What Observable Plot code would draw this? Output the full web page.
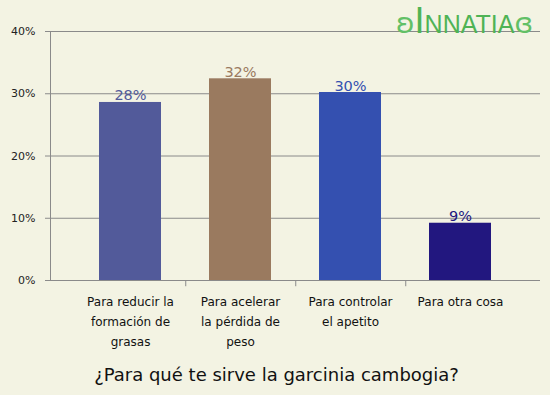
<!DOCTYPE html>
<html>
<head>
<meta charset="utf-8">
<script src="https://cdn.jsdelivr.net/npm/d3@7"></script>
<script src="https://cdn.jsdelivr.net/npm/@observablehq/plot@0.6"></script>
<style>
  html, body { margin: 0; padding: 0; background: #f3f3e3; }
  #wrap { position: relative; width: 550px; height: 395px; overflow: hidden; }
  #logo { position: absolute; left: 396px; top: 3px; color: #4fb355; font-family: "Liberation Sans", sans-serif; white-space: nowrap; line-height: 36px; }
  #logo .big { font-size: 36px; }
  #logo .rest { font-size: 25px; }
  #logo .orn { font-size: 28px; color: #62c066; font-family: "DejaVu Sans", sans-serif; }
</style>
</head>
<body>
<div id="wrap">
  <div id="chart"></div>
  <div id="logo"><span class="orn">ʚ</span><span class="big">I</span><span class="rest">NNATIA</span><span class="orn">ɞ</span></div>
</div>
<script>
const categories = [
  "Para reducir la formación de grasas",
  "Para acelerar la pérdida de peso",
  "Para controlar el apetito",
  "Para otra cosa"
];
const tickLabels = [
  "Para reducir la\nformación de\ngrasas",
  "Para acelerar\nla pérdida de\npeso",
  "Para controlar\nel apetito",
  "Para otra cosa"
];
const values = [28.6, 32.4, 30.2, 9.2];
const valueLabels = ["28%", "32%", "30%", "9%"];
const barColors = ["#525a9a", "#9a7a5f", "#3450b0", "#22177f"];
const yTicks = [0, 10, 20, 30, 40];
const title = "¿Para qué te sirve la garcinia cambogia?";

const data = categories.map((c, i) => ({cat: c, value: values[i], label: valueLabels[i], color: barColors[i]}));
const gray = "#8a8a8a";

const chart = Plot.plot({
  width: 550,
  height: 395,
  marginTop: 31,
  marginBottom: 115,
  marginLeft: 50,
  marginRight: 10,
  style: {background: "#f3f3e3", fontFamily: "DejaVu Sans, sans-serif"},
  x: {domain: categories, paddingInner: 0.44, paddingOuter: 0.437, label: null},
  y: {domain: [0, 40], label: null},
  marks: [
    Plot.ruleY(yTicks, {stroke: gray, strokeWidth: 1}),
    Plot.frame({anchor: "left", stroke: gray}),
    Plot.ruleX(categories.slice(0, 3), {x: d => d, dx: 55.25, y1: 0, y2: -1, stroke: gray}),
    Plot.axisY({ticks: yTicks, tickFormat: d => d + "%", tickSize: 5, tickPadding: 10, fontSize: 11, stroke: gray, fill: "#222", label: null}),
    Plot.axisX({tickSize: 0, tickPadding: 11, fontSize: 12, lineHeight: 1.67, fill: "#111", label: null,
      tickFormat: d => tickLabels[categories.indexOf(d)]}),
    Plot.barY(data, {x: "cat", y: "value", fill: "color"}),
    Plot.text(data, {x: "cat", y: "value", text: "label", fill: "color", fontSize: 14.5, lineAnchor: "bottom", dy: -2}),
    Plot.text([title], {text: d => d, frameAnchor: "bottom", dy: 100, dx: -19, fontSize: 18, fill: "#111"})
  ]
});
document.getElementById("chart").appendChild(chart);
</script>
</body>
</html>
